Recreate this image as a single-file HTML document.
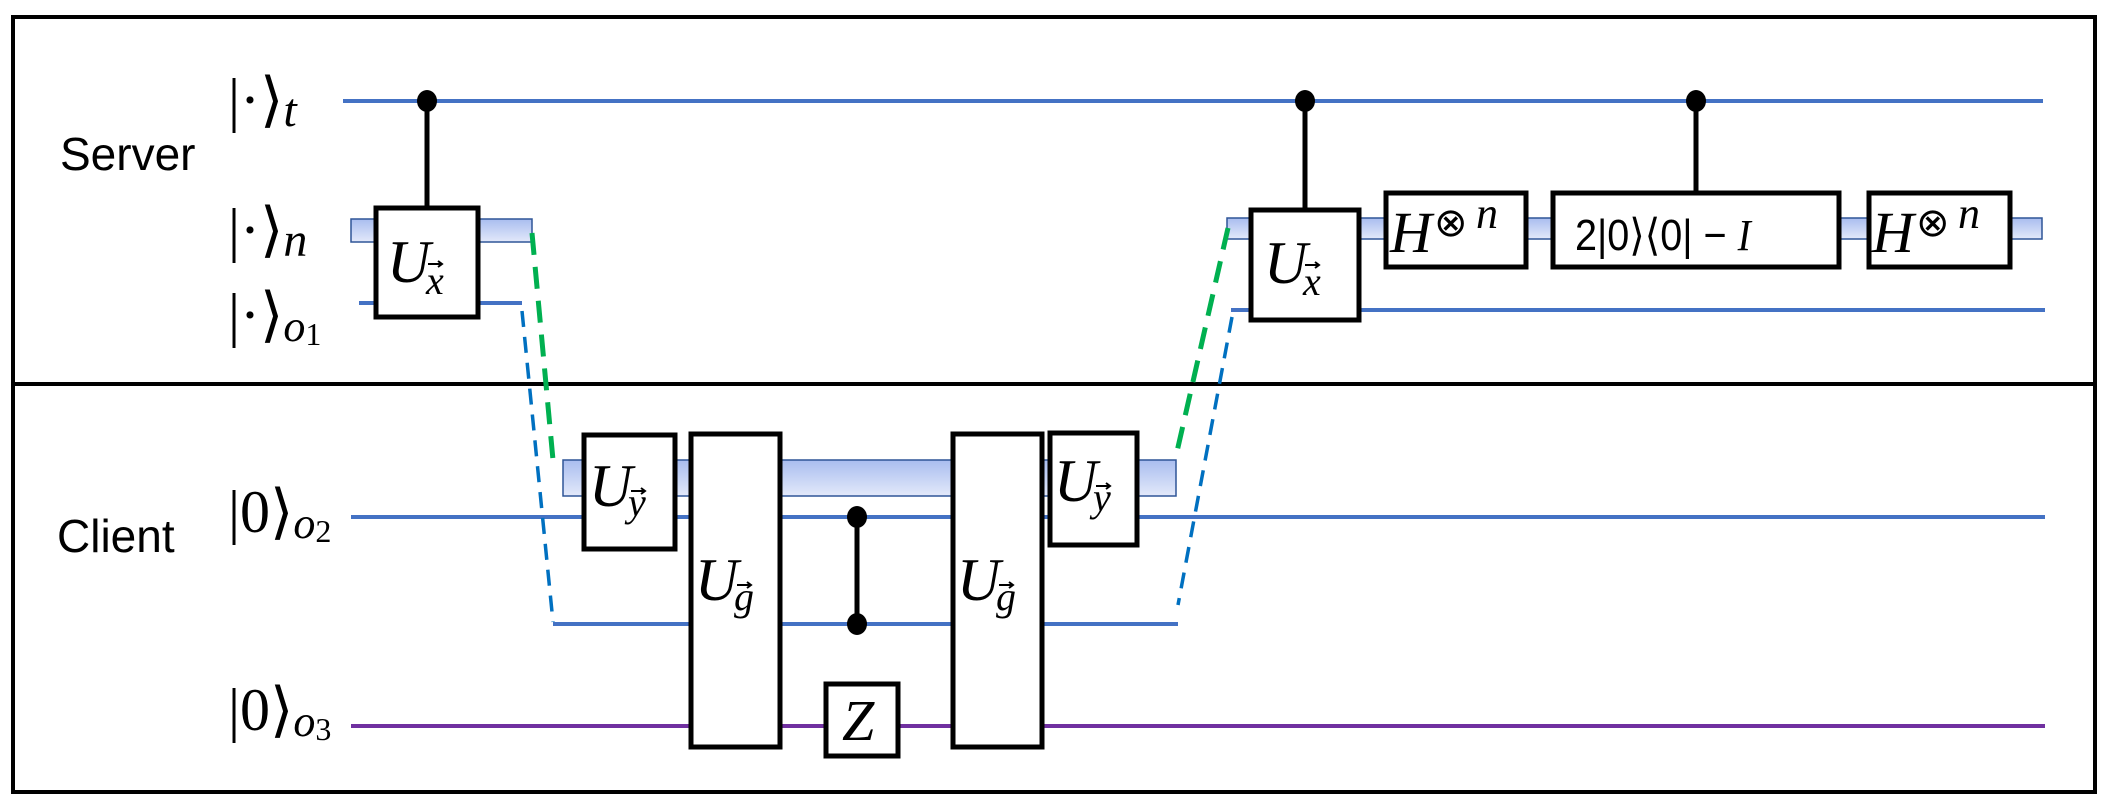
<!DOCTYPE html>
<html><head><meta charset="utf-8"><style>
html,body{margin:0;padding:0;background:#fff;}
svg{display:block;}
.m{font-family:"Liberation Serif",serif;font-style:italic;}
.s{font-family:"Liberation Sans",sans-serif;}
</style></head><body>
<svg width="2110" height="804" viewBox="0 0 2110 804" xmlns="http://www.w3.org/2000/svg">
<defs>
<linearGradient id="g" x1="0" y1="0" x2="0" y2="1">
<stop offset="0" stop-color="#a9bdef"/><stop offset="1" stop-color="#e3e9fa"/>
</linearGradient>
</defs>
<rect x="13" y="17" width="2082" height="775" fill="none" stroke="#000" stroke-width="4"/>
<line x1="13" y1="384" x2="2095" y2="384" stroke="#000" stroke-width="4"/>
<text x="60" y="170" class="s" font-size="46">Server</text>
<text x="57" y="552" class="s" font-size="46">Client</text>
<!-- labels -->
<g font-size="60" font-family="Liberation Serif,serif">
<text x="228" y="120">|·⟩<tspan class="m" font-size="48" dy="6">t</tspan></text>
<text x="228" y="250">|·⟩<tspan class="m" font-size="48" dy="6">n</tspan></text>
<text x="228" y="335">|·⟩<tspan class="m" font-size="44" dy="6">o</tspan><tspan font-size="32" dy="4">1</tspan></text>
<text x="228" y="532">|0⟩<tspan class="m" font-size="44" dy="6">o</tspan><tspan font-size="32" dy="4">2</tspan></text>
<text x="228" y="730">|0⟩<tspan class="m" font-size="44" dy="6">o</tspan><tspan font-size="32" dy="4">3</tspan></text>
</g>
<!-- wires -->
<line x1="343" y1="101" x2="2043" y2="101" stroke="#4472c4" stroke-width="4"/>
<rect x="351" y="219" width="181" height="23" fill="url(#g)" stroke="#2f5597" stroke-width="1.5"/>
<line x1="359" y1="303" x2="522" y2="303" stroke="#4472c4" stroke-width="4"/>
<rect x="1227" y="218" width="815" height="21" fill="url(#g)" stroke="#2f5597" stroke-width="1.5"/>
<line x1="1231" y1="310" x2="2045" y2="310" stroke="#4472c4" stroke-width="4"/>
<rect x="563" y="460" width="613" height="36" fill="url(#g)" stroke="#2f5597" stroke-width="1.5"/>
<line x1="351" y1="517" x2="2045" y2="517" stroke="#4472c4" stroke-width="4"/>
<line x1="553" y1="624" x2="1178" y2="624" stroke="#4472c4" stroke-width="4"/>
<line x1="351" y1="726" x2="2045" y2="726" stroke="#7030a0" stroke-width="4"/>
<!-- dashed -->
<line x1="532" y1="233" x2="553" y2="460" stroke="#00b050" stroke-width="5" stroke-dasharray="22,12"/>
<line x1="522" y1="311" x2="553" y2="622" stroke="#0070c0" stroke-width="3.5" stroke-dasharray="16,10"/>
<line x1="1228" y1="228" x2="1176" y2="456" stroke="#00b050" stroke-width="5" stroke-dasharray="22,12"/>
<line x1="1232" y1="317" x2="1178" y2="605" stroke="#0070c0" stroke-width="3.5" stroke-dasharray="16,10"/>
<!-- controls -->
<g stroke="#000" stroke-width="5">
<line x1="427" y1="101" x2="427" y2="208"/>
<line x1="1305" y1="101" x2="1305" y2="210"/>
<line x1="1696" y1="101" x2="1696" y2="193"/>
<line x1="857" y1="517" x2="857" y2="624"/>
</g>
<g fill="#000">
<ellipse cx="427" cy="101" rx="10" ry="11"/>
<ellipse cx="1305" cy="101" rx="10" ry="11"/>
<ellipse cx="1696" cy="101" rx="10" ry="11"/>
<ellipse cx="857" cy="517" rx="10" ry="11"/>
<ellipse cx="857" cy="624" rx="10" ry="11"/>
</g>
<!-- boxes -->
<g fill="#fff" stroke="#000" stroke-width="5">
<rect x="376" y="208" width="102" height="109"/>
<rect x="1251" y="210" width="108" height="110"/>
<rect x="1386" y="193" width="140" height="74"/>
<rect x="1553" y="193" width="286" height="74"/>
<rect x="1869" y="193" width="141" height="74"/>
<rect x="584" y="435" width="91" height="114"/>
<rect x="691" y="434" width="89" height="313"/>
<rect x="826" y="684" width="72" height="72"/>
<rect x="953" y="434" width="89" height="313"/>
<rect x="1050" y="433" width="87" height="112"/>
</g>
<g class="m">
<text x="387" y="282" font-size="60">U</text><text x="426" y="294" font-size="40">x</text>
<text x="1264" y="283" font-size="60">U</text><text x="1303" y="295" font-size="40">x</text>
<text x="589" y="506" font-size="60">U</text><text x="628" y="516" font-size="40">y</text>
<text x="1054" y="501" font-size="60">U</text><text x="1093" y="511" font-size="40">y</text>
<text x="695" y="600" font-size="60">U</text><text x="734" y="610" font-size="40">g</text>
<text x="957" y="600" font-size="60">U</text><text x="996" y="610" font-size="40">g</text>
<text x="842" y="740" font-size="58">Z</text>
<text x="1390" y="252" font-size="58">H</text><text x="1476" y="228" font-size="44">n</text>
<text x="1872" y="252" font-size="58">H</text><text x="1958" y="228" font-size="44">n</text>
</g>
<g font-family="DejaVu Sans,sans-serif" font-size="40">
<text x="1434" y="236">⊗</text>
<text x="1916" y="236">⊗</text>
</g>
<!-- vector arrows -->
<g stroke="#000" stroke-width="2" fill="none">
<path d="M428 264h14m-4-3l4 3l-4 3"/>
<path d="M1305 265h14m-4-3l4 3l-4 3"/>
<path d="M631 491h14m-4-3l4 3l-4 3"/>
<path d="M1096 486h14m-4-3l4 3l-4 3"/>
<path d="M737 585h14m-4-3l4 3l-4 3"/>
<path d="M999 585h14m-4-3l4 3l-4 3"/>
</g>
<text x="1575" y="250" font-family="Liberation Sans,sans-serif" font-size="44" transform="translate(1575,0) scale(0.9,1) translate(-1575,0)">2|0⟩⟨0| − <tspan class="m" font-family="Liberation Serif,serif">I</tspan></text>
</svg>
</body></html>
